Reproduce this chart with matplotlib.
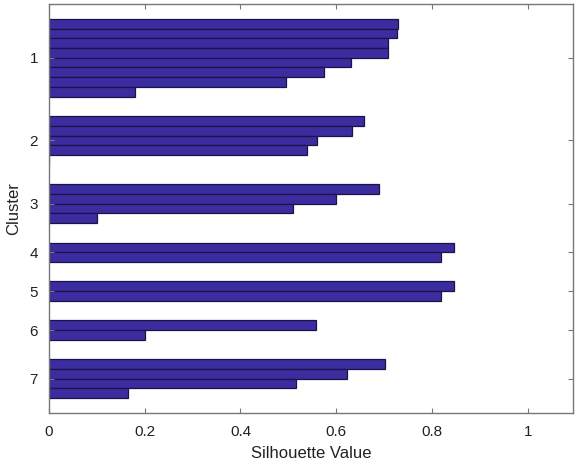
#Silhouette plot of 7 clusters

import numpy as np
import matplotlib
matplotlib.use("Agg")
import matplotlib.pyplot as plt

#silhouette values per cluster, sorted from large to small
cluster_names = ["1", "2", "3", "4", "5", "6", "7"]
c1 = [0.730, 0.727, 0.709, 0.709, 0.631, 0.575, 0.495, 0.179]
c2 = [0.657, 0.633, 0.559, 0.539, 0.0]
c3 = [0.689, 0.600, 0.509, 0.100]
c4 = [0.847, 0.818]
c5 = [0.847, 0.818]
c6 = [0.557, 0.200]
c7 = [0.702, 0.623, 0.516, 0.166]
clusters = [c1, c2, c3, c4, c5, c6, c7]
x_ticks = [0, 0.2, 0.4, 0.6, 0.8, 1]
x_tick_labels = ["0", "0.2", "0.4", "0.6", "0.8", "1"]

plt.rcParams['font.family'] = ['Liberation Sans', 'DejaVu Sans']

fig = plt.figure(figsize=(5.76, 4.70), dpi=100)
ax = fig.add_axes([0.0851, 0.1219, 0.9092, 0.869])

#stack clusters from the top with a gap of 2 rows in between
space = 2
pos = 1
tick_pos = []
for vals in clusters:
    ys = np.arange(pos, pos + len(vals))
    ax.barh(ys, vals, height=1.0, color='#3b2d9f', edgecolor='#1c1448', linewidth=0.9)
    tick_pos.append(ys.mean())
    pos += len(vals) + space

last = pos - space - 1
ax.set_ylim(last + 2, -1)
ax.set_xlim(0, 1.094)

ax.set_yticks(tick_pos)
ax.set_yticklabels(cluster_names)
ax.set_xticks(x_ticks)
ax.set_xticklabels(x_tick_labels)

ax.tick_params(direction='in', length=3.5, width=0.8, colors='#777777',
               labelcolor='#222222', labelsize=11, top=True, right=True)
ax.tick_params(axis='x', pad=9)
ax.tick_params(axis='y', pad=8)
for s in ax.spines.values():
    s.set_color('#777777')
    s.set_linewidth(1.0)

ax.set_xlabel('Silhouette Value', fontsize=12, color='#222222', labelpad=5)
ax.set_ylabel('Cluster', fontsize=12, color='#222222', labelpad=6)

fig.savefig('out.png', dpi=100)
